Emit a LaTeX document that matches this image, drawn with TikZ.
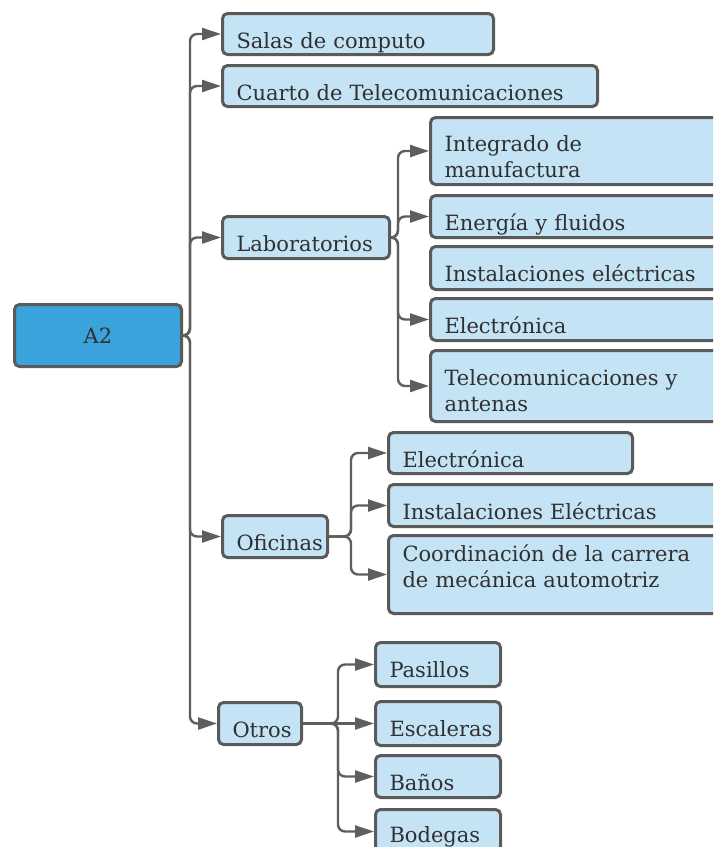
\documentclass[tikz,border=0pt]{standalone}
\usepackage{fontspec}
\setmainfont{DejaVu Serif}
\usetikzlibrary{arrows.meta}
\definecolor{bord}{HTML}{5A5A5A}
\definecolor{lblue}{HTML}{C4E4F6}
\definecolor{dblue}{HTML}{3AA3DC}
\definecolor{txt}{HTML}{303030}
\definecolor{conn}{HTML}{5E5E5E}
\begin{document}
\begin{tikzpicture}[x=1pt,y=-1pt,
  box/.style={draw=bord, fill=lblue, line width=3pt, rounded corners=5pt,
    anchor=north west, inner xsep=14pt, inner ysep=0pt, align=left,
    text=txt, font=\fontsize{21}{26}\selectfont, text depth=0pt},
  link/.style={draw=conn, line width=2.4pt, rounded corners=7pt,
    -{Triangle[length=19pt,width=12pt]}}]
\useasboundingbox (0,0) rectangle (713,847);
\clip (0,0) rectangle (713,847);

% root
\node[box, fill=dblue, align=center, text width=139pt, minimum height=62pt, text height=16pt] (a2) at (13,303) {A2};

% level 1
\node[box, text width=243pt, minimum height=41pt, text height=28pt] (sal) at (221,12) {\mbox{Salas de computo}};
\node[box, text width=347pt, minimum height=41pt, text height=28pt] (cua) at (221,64) {\mbox{Cuarto de Telecomunicaciones}};
\node[box, text width=139pt, minimum height=42pt, text height=27pt] (lab) at (221,215) {\mbox{Laboratorios}};
\node[box, text width=77pt, minimum height=42pt, text height=27pt] (ofi) at (221,514) {\mbox{Oficinas}};
\node[box, text width=55pt, minimum height=42pt, text height=27pt] (otr) at (217,701) {\mbox{Otros}};

% laboratorios
\node[box, text width=272pt, minimum height=67pt, text height=27pt, text depth=26pt] (int) at (429,116) {\mbox{Integrado de}\\\mbox{manufactura}};
\node[box, text width=272pt, minimum height=42pt, text height=27pt] (ene) at (429,194) {\mbox{Energía y fluidos}};
\node[box, text width=272pt, minimum height=43pt, text height=26pt] (ins) at (429,245) {\mbox{Instalaciones eléctricas}};
\node[box, text width=272pt, minimum height=42pt, text height=27pt] (ele) at (429,297) {\mbox{Electrónica}};
\node[box, text width=272pt, minimum height=71pt, text height=25pt, text depth=26pt] (tel) at (429,349) {\mbox{Telecomunicaciones y}\\\mbox{antenas}};

% oficinas
\node[box, text width=216pt, minimum height=41pt, text height=28pt] (oel) at (387,431) {\mbox{Electrónica}};
\node[box, text width=312pt, minimum height=42pt, text height=27pt] (oin) at (387,483) {\mbox{Instalaciones Eléctricas}};
\node[box, text width=312pt, minimum height=78pt, text height=14pt, text depth=40pt] (coo) at (387,534) {\mbox{Coordinación de la carrera}\\\mbox{de mecánica automotriz}};

% otros
\node[box, text width=97pt, minimum height=44pt, text height=25pt] (pas) at (374,641) {\mbox{Pasillos}};
\node[box, text width=97pt, minimum height=44pt, text height=25pt] (esc) at (374,700) {\mbox{Escaleras}};
\node[box, text width=97pt, minimum height=42pt, text height=27pt] (ban) at (374,754) {\mbox{Baños}};
\node[box, text width=97pt, minimum height=44pt, text height=22pt] (bod) at (374,808) {\mbox{Bodegas}};

% connectors
\coordinate (t1) at (190,0);
\coordinate (t2) at (398,0);
\coordinate (t3) at (351,0);
\coordinate (t4) at (338,0);
\foreach \c in {sal,cua,lab,ofi,otr}
  \draw[link] (a2.east) -| (t1 |- \c.west) -- (\c.west);
\foreach \c in {int,ene,ele,tel}
  \draw[link] (lab.east) -| (t2 |- \c.west) -- (\c.west);
\foreach \c in {oel,oin,coo}
  \draw[link] (ofi.east) -| (t3 |- \c.west) -- (\c.west);
\foreach \c in {pas,ban,bod}
  \draw[link] (otr.east) -| (t4 |- \c.west) -- (\c.west);
\draw[link] (otr.east) -- (esc.west);
\end{tikzpicture}
\end{document}
